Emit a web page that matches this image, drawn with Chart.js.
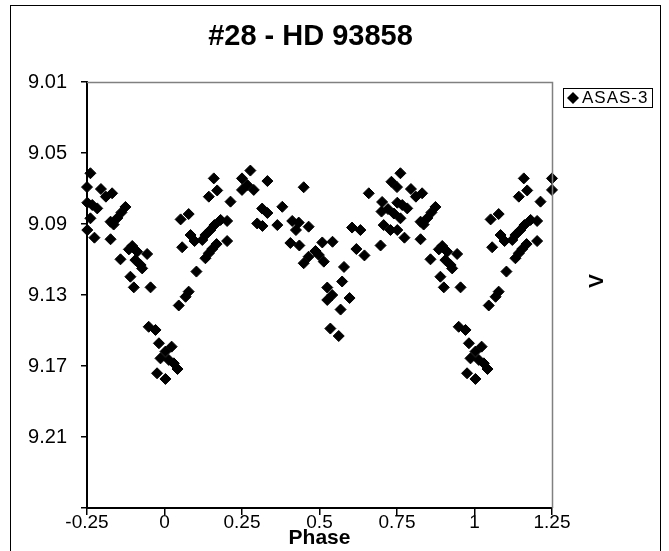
<!DOCTYPE html>
<html><head><meta charset="utf-8">
<script src="https://cdn.jsdelivr.net/npm/chart.js@4"></script>
<style>html,body{margin:0;padding:0;background:#fff;}canvas{display:block;}</style>
</head><body>
<canvas id="c" width="669" height="551"></canvas>
<script>
// ---- text ----
const chartTitle = '#28 - HD 93858';
const seriesName = 'ASAS-3';
const xAxisTitle = 'Phase';
const yAxisTitle = 'V';

// ---- axis ticks ----
const xTickValues = [-0.25, 0, 0.25, 0.5, 0.75, 1, 1.25];
const yTickValues = [9.01, 9.05, 9.09, 9.13, 9.17, 9.21, 9.25];
const yTickLabels = ['9.01', '9.05', '9.09', '9.13', '9.17', '9.21', ''];

// ---- data: phase 0..1 ----
const phase = [0.003,0.023,0.014,0.030,0.042,0.003,0.046,0.068,0.078,0.103,
 0.057,0.084,0.097,0.052,0.078,0.122,0.132,0.148,0.161,0.181,
 0.202,0.132,0.143,0.154,0.168,0.202,0.143,0.170,0.159,0.213,
 0.250,0.267,0.250,0.288,0.277,0.332,0.315,0.332,0.299,0.316,
 0.380,0.364,0.412,0.433,0.424,0.465,0.449,0.406,0.435,0.509,
 0.542,0.487,0.465,0.498,0.449,0.514,0.579,0.573,0.525,0.541,
 0.525,0.597,0.568,0.535,0.562,0.605,0.632,0.619,0.645,0.659,
 0.697,0.702,0.721,0.700,0.740,0.707,0.729,0.751,0.732,0.750,
 0.761,0.795,0.811,0.831,0.751,0.767,0.783,0.874,0.861,0.848,
 0.761,0.826,0.836,0.774,0.826,0.896,0.885,0.912,0.944,0.858,
 0.906,0.923,0.928,0.890,0.901,0.955,0.949,0.971,0.982,0.987,
 0.976];
const magV = [9.1619,9.1591,9.1666,9.1685,9.1717,9.1773,9.1359,9.1310,9.1281,9.1168,
 9.1031,9.0962,9.0996,9.0874,9.0844,9.0990,9.0962,9.0934,9.0906,9.0877,
 9.0883,9.1093,9.1065,9.1041,9.1013,9.0996,9.0746,9.0711,9.0643,9.0774,
 9.0643,9.0680,9.0708,9.0708,9.0599,9.0658,9.0813,9.0838,9.0897,9.0911,
 9.0803,9.0906,9.0883,9.0892,9.0934,9.0915,9.0693,9.1007,9.1021,9.1004,
 9.1000,9.1052,9.1084,9.1075,9.1121,9.1112,9.1142,9.1224,9.1258,9.1300,
 9.1328,9.1317,9.1382,9.1489,9.1531,9.0920,9.0934,9.1041,9.1077,9.0727,
 9.1021,9.0776,9.0816,9.0830,9.0841,9.0906,9.0934,9.0934,9.0662,9.0692,
 9.0614,9.0703,9.0746,9.0727,9.0780,9.0793,9.0812,9.0804,9.0835,9.0866,
 9.0868,9.0887,9.0903,9.0977,9.0986,9.1024,9.1043,9.1056,9.1069,9.1099,
 9.1103,9.1131,9.1150,9.1197,9.1257,9.1257,9.1479,9.1497,9.1572,9.1657,
 9.1741];

// ---- data: points shown at phase -0.25..0 ----
const phaseBefore = [-0.249,-0.250,-0.239,-0.205,-0.189,-0.169,-0.249,-0.233,-0.217,-0.126,
 -0.139,-0.152,-0.239,-0.174,-0.164,-0.226,-0.174,-0.104,-0.115,-0.088,
 -0.056,-0.142,-0.094,-0.077,-0.072,-0.110,-0.099,-0.045,-0.051,-0.029,
 -0.018,-0.013,-0.024];
const magBefore = [9.0934,9.0692,9.0614,9.0703,9.0746,9.0727,9.0780,9.0793,9.0812,9.0804,
 9.0835,9.0866,9.0868,9.0887,9.0903,9.0977,9.0986,9.1024,9.1043,9.1056,
 9.1069,9.1099,9.1103,9.1131,9.1150,9.1197,9.1257,9.1257,9.1479,9.1497,
 9.1572,9.1657,9.1741];

// ---- data: points shown at phase 1..1.25 ----
const phaseAfter = [1.003,1.023,1.014,1.030,1.042,1.003,1.046,1.068,1.078,1.103,
 1.057,1.084,1.097,1.052,1.078,1.122,1.132,1.148,1.161,1.181,
 1.202,1.132,1.143,1.154,1.168,1.202,1.143,1.170,1.159,1.213,
 1.250,1.250];
const magAfter = [9.1619,9.1591,9.1666,9.1685,9.1717,9.1773,9.1359,9.1310,9.1281,9.1168,
 9.1031,9.0962,9.0996,9.0874,9.0844,9.0990,9.0962,9.0934,9.0906,9.0877,
 9.0883,9.1093,9.1065,9.1041,9.1013,9.0996,9.0746,9.0711,9.0643,9.0774,
 9.0643,9.0708];

const pts = [];
phaseBefore.forEach((p, i) => pts.push({x: p, y: magBefore[i]}));
phase.forEach((p, i) => pts.push({x: p, y: magV[i]}));
phaseAfter.forEach((p, i) => pts.push({x: p, y: magAfter[i]}));

const FONT = "'Liberation Sans', Arial, sans-serif";

const decor = {
  id: 'decor',
  beforeDraw(chart) {
    const ctx = chart.ctx;
    ctx.save();
    ctx.fillStyle = '#fff';
    ctx.fillRect(0, 0, chart.width, chart.height);
    ctx.restore();
  },
  afterDraw(chart) {
    const ctx = chart.ctx;
    const a = chart.chartArea;
    ctx.save();
    // outer chart border
    ctx.strokeStyle = '#000';
    ctx.lineWidth = 1;
    ctx.strokeRect(10.5, 5.5, 650, 600);
    // plot area border (top / right)
    ctx.strokeStyle = '#808080';
    ctx.lineWidth = 1.5;
    ctx.beginPath();
    ctx.moveTo(a.left, a.top + 0.5);
    ctx.lineTo(a.right + 0.5, a.top + 0.5);
    ctx.lineTo(a.right + 0.5, a.bottom);
    ctx.stroke();
    // title
    ctx.fillStyle = '#000';
    ctx.font = 'bold 29px ' + FONT;
    ctx.textAlign = 'center';
    ctx.textBaseline = 'middle';
    ctx.fillText(chartTitle, 310.5, 37);
    // legend
    ctx.strokeStyle = '#000';
    ctx.lineWidth = 1;
    ctx.strokeRect(563.5, 88.5, 89, 19);
    ctx.beginPath();
    ctx.moveTo(567, 98); ctx.lineTo(573, 92); ctx.lineTo(579, 98); ctx.lineTo(573, 104);
    ctx.closePath();
    ctx.fill();
    ctx.font = '17px ' + FONT;
    ctx.textAlign = 'left';
    try { ctx.letterSpacing = '1px'; } catch (e) {}
    ctx.fillText(seriesName, 582, 98.5);
    try { ctx.letterSpacing = '0px'; } catch (e) {}
    // y axis title (drawn on the right, rotated)
    ctx.translate(597, 281);
    ctx.rotate(-Math.PI / 2);
    ctx.font = 'bold 21px ' + FONT;
    ctx.textAlign = 'center';
    ctx.fillText(yAxisTitle, 0, 0);
    ctx.restore();
  }
};

new Chart(document.getElementById('c'), {
  type: 'scatter',
  data: {
    datasets: [{
      label: seriesName,
      data: pts,
      pointStyle: 'rectRot',
      pointRadius: 5.5,
      pointHoverRadius: 5.5,
      borderWidth: 1,
      backgroundColor: '#000',
      borderColor: '#000',
      clip: false
    }]
  },
  options: {
    responsive: false,
    animation: false,
    devicePixelRatio: 1,
    layout: { padding: { left: 0, right: 117, top: 82, bottom: 0 } },
    plugins: { legend: { display: false }, title: { display: false }, tooltip: { enabled: false } },
    scales: {
      x: {
        type: 'linear',
        min: -0.25, max: 1.25,
        afterBuildTicks: s => { s.ticks = xTickValues.map(v => ({value: v})); },
        ticks: {
          callback: v => String(Math.round(v * 100) / 100),
          font: { family: FONT, size: 19 },
          color: '#000',
          padding: -4,
          maxRotation: 0
        },
        grid: { drawOnChartArea: false, drawTicks: true, tickLength: 7, color: '#000', lineWidth: 1.5 },
        border: { display: true, color: '#000', width: 2 },
        title: { display: true, text: xAxisTitle, color: '#000', font: { family: FONT, size: 21, weight: 'bold' }, padding: { top: 0, bottom: 0 } },
        afterFit: s => { s.height = 43; }
      },
      y: {
        type: 'linear',
        reverse: true,
        min: 9.01, max: 9.25,
        afterBuildTicks: s => { s.ticks = yTickValues.map(v => ({value: v})); },
        ticks: {
          callback: (v, i) => yTickLabels[i],
          font: { family: FONT, size: 20 },
          color: '#000',
          padding: 14
        },
        grid: { drawOnChartArea: false, drawTicks: true, tickLength: 6, color: '#000', lineWidth: 1.5 },
        border: { display: true, color: '#000', width: 2 },
        afterFit: s => { s.width = 87; }
      }
    }
  },
  plugins: [decor]
});
</script>
</body></html>
